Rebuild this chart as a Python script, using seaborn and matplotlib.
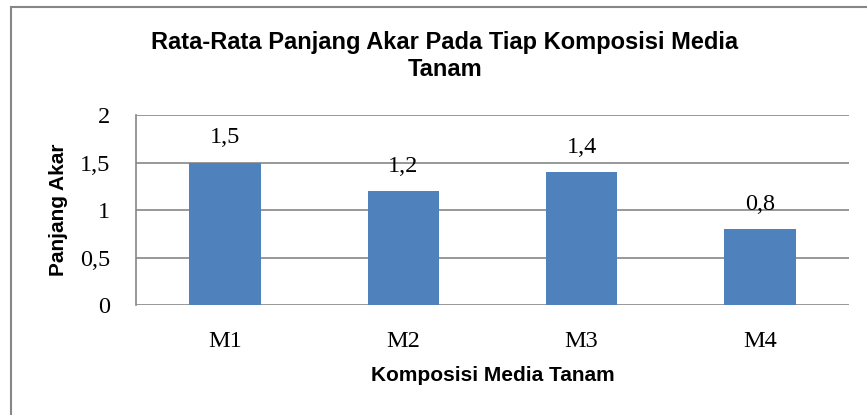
import seaborn as sns
import matplotlib.pyplot as plt
import matplotlib.patches as patches
import pandas as pd

# Data
komposisi = ['M1', 'M2', 'M3', 'M4']
panjang_akar = [1.5, 1.2, 1.4, 0.8]
y_ticks = [0, 0.5, 1, 1.5, 2]
y_tick_labels = ['0', '0,5', '1', '1,5', '2']

df = pd.DataFrame({'Komposisi': komposisi, 'Panjang': panjang_akar})

sns.set_style("white")
plt.rcParams.update({'text.color': 'black', 'axes.labelcolor': 'black',
                     'xtick.color': 'black', 'ytick.color': 'black'})

fig = plt.figure(figsize=(8.67, 4.15), dpi=100)
ax = fig.add_axes([136 / 867, 1 - 305 / 415, (849 - 136) / 867, (305 - 115) / 415])

sns.barplot(data=df, x='Komposisi', y='Panjang', color='#4F81BD',
            saturation=1, width=0.4, linewidth=0, ax=ax, zorder=3)

grid_col = '#868686'
ax.set_ylim(0, 2)
ax.set_xlim(-0.5, 3.5)
ax.set_yticks(y_ticks)
ax.set_yticklabels(y_tick_labels)
ax.yaxis.grid(True, color=grid_col, linewidth=1.2, zorder=0)
ax.set_axisbelow(True)
for s in ['top', 'right', 'bottom']:
    ax.spines[s].set_visible(False)
ax.spines['left'].set_color(grid_col)
ax.spines['left'].set_linewidth(1.2)
ax.tick_params(length=0)

serif = ['Liberation Serif', 'DejaVu Serif']
sans = ['Liberation Sans', 'DejaVu Sans']
for lbl in ax.get_yticklabels() + ax.get_xticklabels():
    lbl.set_fontfamily(serif)
    lbl.set_fontsize(17.5)
    lbl.set_color('black')
ax.tick_params(axis='y', pad=18.5)
ax.tick_params(axis='x', pad=19)

# Value labels
for i, v in enumerate(panjang_akar):
    ax.annotate(f'{v:.1f}'.replace('.', ','), (i, v), xytext=(0, 18),
                textcoords='offset points', ha='center', va='center',
                fontsize=17.5, family=serif, color='black')

ax.set_xlabel('Komposisi Media Tanam', fontsize=15, fontweight='bold',
              family=sans, va='center', color='black')
ax.xaxis.set_label_coords(0.5, -(375 - 305) / 190)
ax.set_ylabel('Panjang Akar', fontsize=15, fontweight='bold',
              family=sans, va='center', color='black')
ax.yaxis.set_label_coords(-(136 - 58) / 713, 0.5)

fig.text(445 / 867, 1 - 42 / 415, 'Rata-Rata Panjang Akar Pada Tiap Komposisi Media',
         ha='center', va='center', fontsize=17, fontweight='bold', family=sans,
         color='black')
fig.text(445 / 867, 1 - 70 / 415, 'Tanam',
         ha='center', va='center', fontsize=17, fontweight='bold', family=sans,
         color='black')

# Outer chart frame (right and bottom edges lie outside the image)
frame = patches.Rectangle((11 / 867, -0.1), 1.2, 1.1 - 7 / 415,
                          transform=fig.transFigure, fill=False,
                          edgecolor=grid_col, linewidth=1.5)
fig.patches.append(frame)

fig.savefig('out.png', dpi=100, facecolor='white')
